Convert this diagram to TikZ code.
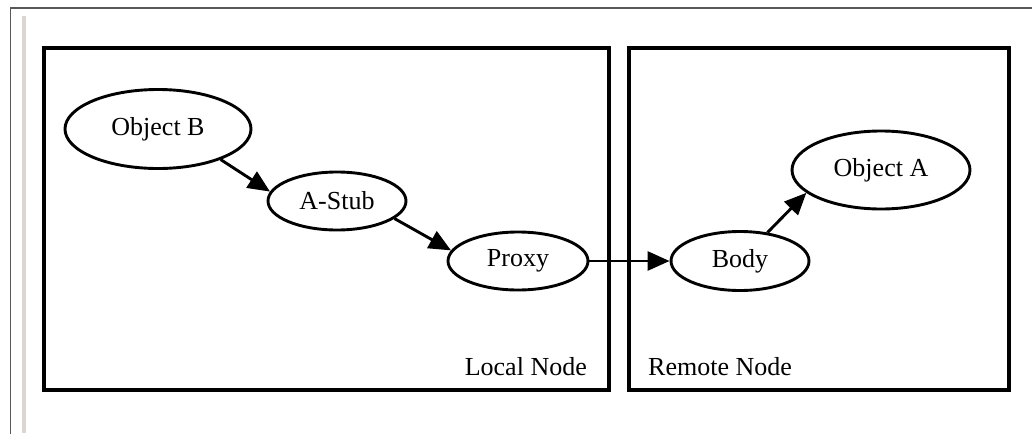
\documentclass[tikz,border=0pt]{standalone}
\usepackage{fontspec}
\setmainfont{Liberation Serif}
\usetikzlibrary{shapes.geometric,arrows.meta}
\definecolor{barGray}{RGB}{218,214,210}
\begin{document}
\begin{tikzpicture}[x=1pt,y=-1pt,
  obj/.style={ellipse,draw,line width=2.9pt,inner sep=0pt,font=\fontsize{26}{30}\selectfont},
  boxframe/.style={draw,line width=3.6pt},
  lbl/.style={font=\fontsize{26}{30}\selectfont,inner sep=0pt},
  conn/.style={line width=2.9pt,-{Triangle[length=22pt,width=19pt]}}]
\useasboundingbox (0,0) rectangle (1032,434);
% outer frame
\draw[line width=1.3pt,color=black!65] (10.5,434) -- (10.5,8) -- (1032,8);
\fill[barGray] (21.5,16) rectangle (25.5,433);
% boxes
\draw[boxframe] (44,48) rectangle (609,390);
\draw[boxframe] (629,48) rectangle (1009,390);
\node[lbl,anchor=base east] (ln) at (587,375) {Local Node};
\node[lbl,anchor=base west] (rn) at (648,375) {Remote Node};
% ellipses
\node[obj,minimum width=186pt,minimum height=79pt] (B) at (158,129) {Object B};
\node[obj,minimum width=138pt,minimum height=58pt] (S) at (337,201) {A-Stub};
\node[obj,minimum width=140pt,minimum height=58pt] (P) at (518,261) {Proxy};
\node[obj,minimum width=138pt,minimum height=59pt] (D) at (740,261) {Body};
\node[obj,minimum width=178pt,minimum height=78pt] (A) at (881,170) {Object A};
% connectors
\draw[conn] (B.-26.6) -- (S.172.6);
\draw[conn] (S.-17.6) -- (P.171.9);
\draw[conn] (P.east) -- (D.west);
\draw[conn] (D.46) -- (A.-163);
\end{tikzpicture}
\end{document}
